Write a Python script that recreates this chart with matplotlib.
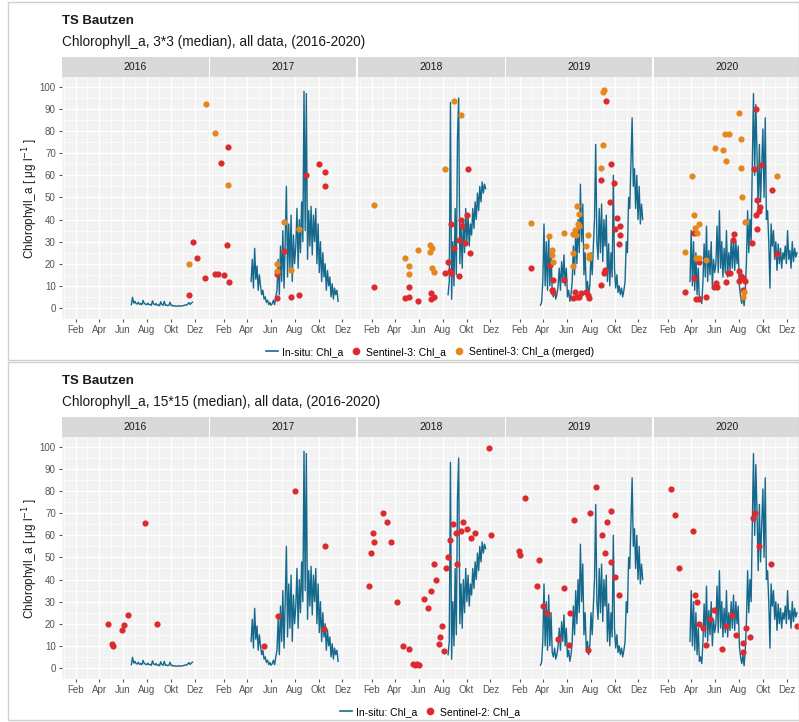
import numpy as np
import matplotlib.pyplot as plt
from matplotlib.lines import Line2D
from matplotlib.patches import Rectangle
from datetime import date

plt.rcParams['font.family'] = ['Liberation Sans', 'DejaVu Sans']

W, H = 799, 722
years = [2016, 2017, 2018, 2019, 2020]
month_labels = ['Feb', 'Apr', 'Jun', 'Aug', 'Okt', 'Dez']

# in-situ Chl_a, one value every 3 days from a start day-of-year
insitu_start = {2016: 173, 2017: 101, 2018: 226, 2019: 84, 2020: 88}
insitu_vals = {
    2016: [1.5, 4.8, 2.2, 3.0, 2.0, 1.8, 2.6, 1.6, 2.0, 1.5, 3.4, 2.0, 1.8, 1.4, 2.2, 1.5, 1.6, 1.2,
           3.2, 1.8, 1.4, 2.0, 1.2, 1.4, 1.0, 2.8, 1.5, 1.2, 3.0, 1.2, 1.4, 1.0, 1.3, 2.6, 1.0, 1.2,
           0.8, 1.0, 0.8, 0.9, 0.8, 1.0, 0.8, 0.9, 1.0, 1.2, 1.4, 1.2, 1.8, 2.4, 1.6, 2.2, 2.6],
    2017: [12, 22, 9, 27, 13, 19, 8, 15,
           10, 6, 8, 4, 5, 2.5, 3.5, 1.5, 2.5, 1.2,
           2, 3.5, 1.5, 5,
           8, 22, 6, 28, 12, 35, 9, 30, 55,
           14, 38, 18, 42, 12, 33, 20,
           28, 45, 18, 40, 25, 48, 30,
           98, 35, 97,
           22, 44, 28, 46, 24, 42, 30, 45, 20, 38,
           16, 30, 12, 25, 14, 20, 8, 17, 10, 14,
           5, 11, 4, 9, 6, 8, 3],
    2018: [6, 12, 93, 4, 30, 10, 45, 15, 77, 95, 20, 38, 18, 40, 25, 45, 30, 42, 28, 38, 33, 45,
           36, 48, 40, 52, 44, 55, 48, 57, 52, 56, 54],
    2019: [1.3, 2.5, 12, 38, 10, 30,
           8, 33, 10, 25, 7,
           5, 9, 4, 6,
           10, 18, 8, 21, 12, 24, 10, 18,
           5, 8, 3, 6,
           12, 28, 15, 35, 20, 40, 25, 56, 30, 47,
           15, 25, 8, 12, 6,
           10, 25, 15, 28,
           40, 74, 30,
           22, 45, 25, 47, 21, 40, 28, 42,
           12, 29, 10, 25, 14, 60, 18,
           9, 15, 7, 10, 6, 9, 5, 8,
           12, 30, 25, 50, 45, 66, 86,
           55, 63, 45, 60, 40, 55, 38, 47, 40],
    2020: [12, 35, 10, 30, 8, 25, 6, 18,
           3, 5, 2,
           12, 29, 14, 37, 12, 26, 15, 30, 10, 22, 16,
           20, 37, 16, 44, 18, 30,
           14, 27, 16, 35, 14, 25, 17, 30,
           18, 33, 17, 30, 20, 28,
           10, 5, 2, 6, 1, 8,
           21, 44, 25, 40, 30,
           66, 97, 60, 92, 70,
           44, 74, 48, 65,
           81, 50, 86, 40,
           44, 30, 9, 38, 28, 35, 22, 30,
           17, 29, 20, 27, 18, 25, 22, 28, 20, 35, 22, 26, 18, 30, 21, 27, 23, 25],
}

# Sentinel-3 Chl_a (3*3) : year, day of year, value
s3_year = [2016] * 4 + [2017] * 16 + [2018] * 22 + [2019] * 27 + [2020] * 32
s3_doy = [331, 340, 362, 321,
          8, 16, 32, 45, 42, 25, 39, 242, 274, 290, 289, 184, 166, 168, 202, 223,
          37, 278, 273, 258, 233, 261, 253, 268, 240, 283, 226, 219, 231, 234, 253, 126, 117, 127,
          150, 182, 189, 182,
          59, 252, 238, 265, 272, 262, 279, 275, 288, 287, 285, 248, 245, 239, 109, 115, 114, 115,
          143, 168, 176, 183, 187, 199, 205, 209, 173,
          74, 98, 110, 97, 103, 112, 129, 256, 252, 269, 298, 259, 266, 265, 256, 260, 246, 311,
          199, 197, 186, 191, 214, 218, 224, 229, 214, 179, 154, 158, 150, 222]
s3_val = [29.9, 22.8, 13.6, 5.7,
          15.2, 15.2, 14.9, 11.6, 73, 65.6, 28.4, 60.2, 65.2, 61.7, 55, 25.7, 15.3, 4.6, 5, 6,
          9.6, 62.9, 42.2, 40, 38.1, 37.1, 30.6, 29.4, 27, 24.8, 20.7, 15.9, 16.7, 15.6, 14.4, 9.6,
          4.4, 4.8, 3.3, 6.9, 5, 4,
          18.3, 93.7, 57.8, 65.2, 56.6, 48, 40.5, 35.9, 37.1, 33.2, 29.1, 17.1, 15.6, 10.2, 19.4,
          12.6, 8.1, 7.2, 12.6, 4.4, 5.1, 5.1, 6.6, 7.3, 5.9, 4.4, 7,
          7, 33.8, 20.9, 13.6, 3.9, 3.9, 4.8, 89.8, 62.9, 64.7, 53.5, 49, 45.6, 43.7, 41.9, 35.5,
          29.6, 24.6, 33.6, 30.6, 15.6, 15.6, 16.7, 14.4, 13.4, 12.3, 12.3, 11.9, 11.1, 9.6, 9.3, 8.1]

# Sentinel-3 Chl_a (merged)
s3m_year = [2016] * 2 + [2017] * 7 + [2018] * 13 + [2019] * 23 + [2020] * 22
s3m_doy = [321, 363,
           10, 43, 184, 223, 168, 167, 202,
           37, 240, 258, 218, 115, 126, 127, 148, 180, 184, 181, 184, 189,
           59, 243, 245, 244, 239, 107, 114, 114, 115, 143, 168, 173, 177, 183, 180, 183, 175, 206,
           199, 168, 168, 207, 209,
           93, 74, 97, 100, 112, 107, 103, 110, 129, 153, 173, 179, 178, 187, 214, 219, 218, 220,
           229, 311, 224, 225]
s3m_val = [20, 92.2,
           79, 55.7, 39, 35.6, 19.7, 16.8, 17.1,
           46.8, 93.7, 87.5, 62.7, 22.4, 19, 15.5, 26.1, 28.5, 27.3, 25.1, 17.9, 16.1,
           38.4, 97.7, 98.5, 73.9, 63.2, 32.4, 26.4, 23.9, 20.9, 33.8, 33.6, 35.1, 46.1, 42.6, 38.1,
           37.1, 32.9, 32.9, 28.1, 24.9, 19, 23.9, 22.4,
           59.6, 25.1, 42, 36.2, 38, 33.8, 22.4, 22.4, 21.9, 72.4, 71.5, 66.7, 78.7, 78.7, 88, 76.4,
           63.4, 50.2, 38.7, 59.5, 4.8, 7.3]

# Sentinel-2 Chl_a (15*15)
s2_year = [2016] * 8 + [2017] * 5 + [2018] * 36 + [2019] * 22 + [2020] * 24
s2_doy = [113, 123, 126, 149, 154, 164, 208, 238,
          135, 170, 214, 290, 288,
          25, 30, 35, 38, 60, 70, 80, 95, 110, 127, 137, 142, 147, 152, 165, 175, 182, 190, 195,
          203, 216, 205, 210, 220, 225, 230, 238, 245, 250, 258, 265, 275, 285, 295, 330, 335,
          30, 33, 45, 75, 80, 90, 100, 130, 145, 156, 160, 170, 205, 210, 225, 240, 250, 255, 265,
          275, 285, 265,
          40, 50, 60, 95, 100, 105, 110, 120, 130, 140, 150, 170, 180, 195, 205, 224, 224, 230, 240,
          250, 255, 265, 295, 360]
s2_val = [20, 11, 10, 17, 19.5, 24, 65.5, 20,
          10, 23.5, 80, 55, 17.5,
          37, 52, 61, 57, 70, 66, 57, 30, 10, 8.4, 2, 1.5, 2, 1.5, 31, 27, 35, 47, 40, 11, 7.7, 14,
          19, 45, 50, 58, 65, 61, 47, 62, 66, 63, 59, 61, 99.5, 60,
          53, 51, 77, 37, 49, 28, 25, 13, 36, 10.4, 25, 67, 8, 70, 82, 60, 52, 66, 48, 41, 33, 71,
          81, 69, 45, 62, 33, 30, 20, 18, 10.4, 22, 26, 8.4, 19, 24, 15, 11.4, 7.3, 18, 14, 68, 70,
          55, 47, 19]

line_col = '#15698c'
red = '#dc2b2f'
orange = '#e4871d'


def fig_rect(x0, y0, w, h):
    return [x0 / W, 1 - (y0 + h) / H, w / W, h / H]


def doy(y, m):
    return (date(y, m, 1) - date(y, 1, 1)).days


fig = plt.figure(figsize=(W / 100, H / 100), dpi=100)


def draw_panel(y_top, subtitle, series, legend_items):
    # frame around the whole plot
    fig.patches.append(Rectangle((8 / W, 1 - (y_top + 352) / H), 791 / W, 358 / H,
                                 transform=fig.transFigure, fill=False, ec='#d0d0d0', lw=1))
    fig.text(62 / W, 1 - (y_top + 13) / H, 'TS Bautzen', fontsize=9.5, fontweight='bold',
             va='center', color='#1a1a1a')
    fig.text(62 / W, 1 - (y_top + 34) / H, subtitle, fontsize=9.8, va='center', color='#1a1a1a')
    fig.text(30 / W, 1 - (y_top + 190) / H, 'Chlorophyll_a [ μg l$^{-1}$ ]', rotation=90,
             fontsize=8.5, va='center', ha='center', color='#1a1a1a')
    strip_y = y_top + 49
    panel_y = y_top + 69
    panel_h = 242
    for i, yr in enumerate(years):
        x0 = 62 + 148 * i
        sax = fig.add_axes(fig_rect(x0, strip_y, 146.5, 20))
        sax.set_facecolor('#d9d9d9')
        sax.set_xticks([])
        sax.set_yticks([])
        for s in sax.spines.values():
            s.set_visible(False)
        sax.text(0.5, 0.5, str(yr), ha='center', va='center', fontsize=7.5, color='#1a1a1a',
                 transform=sax.transAxes)

        ax = fig.add_axes(fig_rect(x0, panel_y, 146.5, panel_h))
        ax.set_facecolor('#f2f2f2')
        for s in ax.spines.values():
            s.set_visible(False)
        ax.set_xlim(-4, 370)
        ax.set_ylim(-5, 104.5)
        ax.set_xticks([doy(yr, m) for m in (2, 4, 6, 8, 10, 12)])
        ax.set_xticklabels(month_labels)
        ax.set_xticks([doy(yr, m) for m in (1, 3, 5, 7, 9, 11)], minor=True)
        ax.set_yticks(range(0, 101, 10))
        ax.set_yticks(range(5, 100, 10), minor=True)
        ax.grid(which='major', color='white', lw=1.0)
        ax.grid(which='minor', color='white', lw=0.5)
        ax.set_axisbelow(True)
        ax.tick_params(which='major', length=2.5, color='#555555', labelsize=7,
                       labelcolor='#555555', pad=2)
        ax.tick_params(which='minor', length=0)
        if i > 0:
            ax.tick_params(axis='y', labelleft=False, length=0)

        v = insitu_vals[yr]
        d = insitu_start[yr] + 3 * np.arange(len(v))
        ax.plot(d, v, color=line_col, lw=1.0, zorder=2)

        for ys, ds, vs, col in series:
            ys = np.array(ys)
            m = ys == yr
            ax.scatter(np.array(ds)[m], np.array(vs)[m], s=20, color=col, lw=0, zorder=3)

    handles = []
    for label, kind, col in legend_items:
        if kind == 'line':
            handles.append(Line2D([], [], color=col, lw=1.2, label=label))
        else:
            handles.append(Line2D([], [], color=col, marker='o', ls='', ms=4.5, label=label))
    fig.legend(handles=handles, loc='center', bbox_to_anchor=(430 / W, 1 - (y_top + 344) / H),
               ncol=len(handles), frameon=False, fontsize=7.5, handlelength=1.2,
               columnspacing=0.6, handletextpad=0.4)


draw_panel(8, 'Chlorophyll_a, 3*3 (median), all data, (2016-2020)',
           [(s3_year, s3_doy, s3_val, red), (s3m_year, s3m_doy, s3m_val, orange)],
           [('In-situ: Chl_a', 'line', line_col), ('Sentinel-3: Chl_a', 'pt', red),
            ('Sentinel-3: Chl_a (merged)', 'pt', orange)])
draw_panel(368, 'Chlorophyll_a, 15*15 (median), all data, (2016-2020)',
           [(s2_year, s2_doy, s2_val, red)],
           [('In-situ: Chl_a', 'line', line_col), ('Sentinel-2: Chl_a', 'pt', red)])

fig.savefig('out.png', dpi=100)
